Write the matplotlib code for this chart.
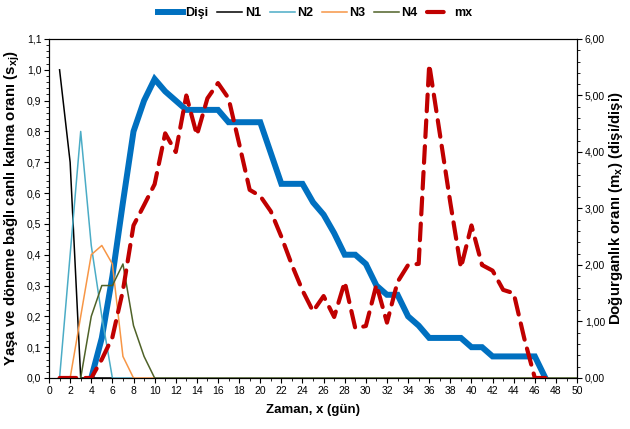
import matplotlib
matplotlib.use('Agg')
import matplotlib.pyplot as plt
from matplotlib.ticker import MultipleLocator, FuncFormatter

plt.rcParams['font.family'] = ['Liberation Sans Narrow', 'Liberation Sans', 'DejaVu Sans']
plt.rcParams['mathtext.fontset'] = 'custom'
plt.rcParams['mathtext.rm'] = 'Liberation Sans:bold'
plt.rcParams['mathtext.it'] = 'Liberation Sans:bold'
plt.rcParams['mathtext.default'] = 'rm'

# survival of females (sx) from day 4 to 47
disi_days = list(range(4, 48))
disi = [0.0, 0.13, 0.33, 0.57, 0.80, 0.90, 0.97, 0.93, 0.90, 0.87,
        0.87, 0.87, 0.87, 0.83, 0.83, 0.83, 0.83, 0.73, 0.63, 0.63,
        0.63, 0.57, 0.53, 0.47, 0.40, 0.40, 0.37, 0.30, 0.27, 0.27,
        0.20, 0.17, 0.13, 0.13, 0.13, 0.13, 0.10, 0.10, 0.07, 0.07,
        0.07, 0.07, 0.07, 0.0]

# nymph stages N1..N4
n1_days = list(range(1, 7))
n1 = [1.0, 0.70, 0.0, 0.0, 0.0, 0.0]
n2_days = list(range(1, 9))
n2 = [0.0, 0.40, 0.80, 0.43, 0.20, 0.0, 0.0, 0.0]
n3_days = list(range(2, 11))
n3 = [0.0, 0.20, 0.40, 0.43, 0.37, 0.07, 0.0, 0.0, 0.0]
n4_days = list(range(3, 51))
n4 = [0.0, 0.20, 0.30, 0.30, 0.37, 0.17, 0.07] + [0.0] * 41

# fecundity mx (right axis), day 1 to 47
mx_days = list(range(1, 48))
mx = [0.0, 0.0, 0.0, 0.0, 0.33, 0.72, 1.55, 2.70, 3.06, 3.43,
      4.33, 4.00, 5.00, 4.30, 4.95, 5.22, 4.95, 4.15, 3.33, 3.22,
      2.95, 2.50, 2.00, 1.55, 1.18, 1.45, 1.08, 1.70, 0.88, 0.92,
      1.65, 0.98, 1.70, 2.00, 2.02, 5.55, 4.33, 3.10, 1.95, 2.70,
      2.00, 1.90, 1.56, 1.50, 0.70, 0.0, 0.0]

fig = plt.figure(figsize=(6.3, 4.29), dpi=100)
ax = fig.add_axes([0.0778, 0.1189, 0.8382, 0.7902])
ax2 = ax.twinx()

ax.plot(disi_days, disi, color='#0070C0', lw=4.3, label='Dişi', solid_joinstyle='miter')
ax.plot(n1_days, n1, color='black', lw=1.1, label='N1')
ax.plot(n2_days, n2, color='#4BACC6', lw=1.1, label='N2')
ax.plot(n3_days, n3, color='#F79646', lw=1.1, label='N3')
ax.plot(n4_days, n4, color='#4F6228', lw=1.1, label='N4')
ax2.plot(mx_days, mx, color='#C00000', lw=3.0, ls=(0, (4, 2.2)),
         dash_capstyle='round', label='mx')

ax.set_xlim(0, 50)
ax.set_ylim(0, 1.1)
ax2.set_ylim(0, 6)

ax.xaxis.set_major_locator(MultipleLocator(2))
ax.xaxis.set_minor_locator(MultipleLocator(1))
ax.yaxis.set_major_locator(MultipleLocator(0.1))
ax.yaxis.set_minor_locator(MultipleLocator(0.02))
ax2.yaxis.set_major_locator(MultipleLocator(1))
ax2.yaxis.set_minor_locator(MultipleLocator(0.2))

ax.yaxis.set_major_formatter(FuncFormatter(lambda v, p: f'{v:.1f}'.replace('.', ',')))
ax2.yaxis.set_major_formatter(FuncFormatter(lambda v, p: f'{v:.2f}'.replace('.', ',')))

for a in (ax, ax2):
    a.tick_params(which='major', direction='out', length=3.5, width=0.8, labelsize=7.5, pad=2)
    a.tick_params(which='minor', direction='out', length=2, width=0.6)
    for s in a.spines.values():
        s.set_linewidth(0.8)

ax.set_xlabel('Zaman, x (gün)', fontsize=9.5, fontweight='bold', labelpad=6)
ax.set_ylabel(r'Yaşa ve döneme bağlı canlı kalma oranı (s$_{xj}$)',
              fontsize=10.8, fontweight='bold', family='Liberation Sans')
ax2.set_ylabel(r'Doğurganlık oranı (m$_{x}$) (dişi/dişi)',
               fontsize=10.8, fontweight='bold', family='Liberation Sans')
ax.yaxis.set_label_coords(-0.051, 0.5)
ax2.yaxis.set_label_coords(1.057, 0.5)

handles = ax.get_lines() + ax2.get_lines()
labels = [h.get_label() for h in handles]
fig.legend(handles, labels, loc='upper center', bbox_to_anchor=(0.5, 1.01), ncol=6,
           frameon=False, handlelength=2.0, handletextpad=0.2, columnspacing=0.7,
           prop={'weight': 'bold', 'size': 9})

fig.savefig('out.png', dpi=100)
